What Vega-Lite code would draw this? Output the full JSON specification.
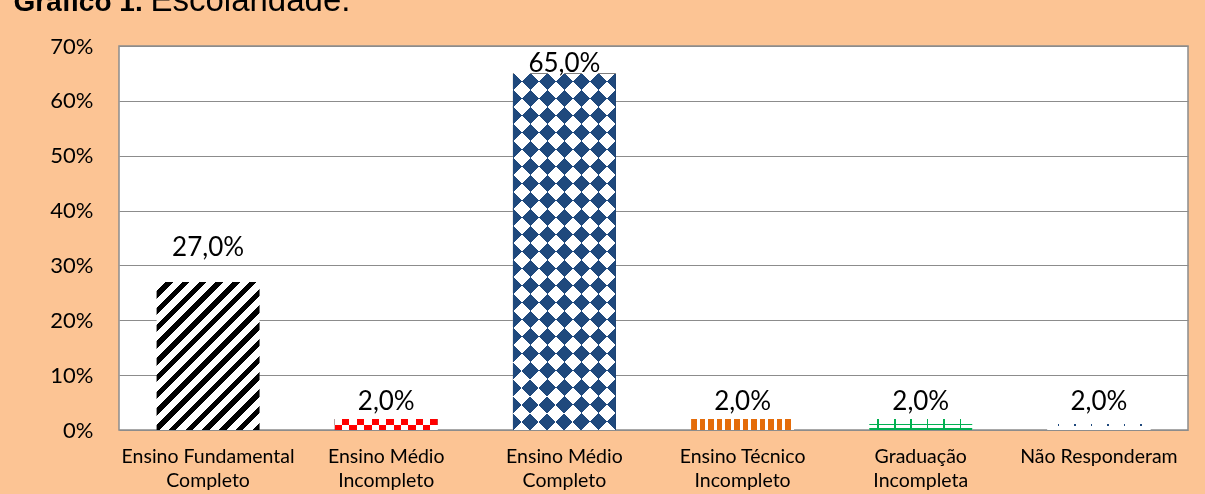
{
  "$schema": "https://vega.github.io/schema/vega-lite/v6.json",
  "width": 1069,
  "height": 384,
  "autosize": {"type": "none"},
  "padding": {"left": 119, "top": 46, "right": 17, "bottom": 64},
  "background": "#FCC494",
  "config": {
    "view": {"fill": "white", "stroke": "#8c8c8c", "strokeWidth": 1.5},
    "locale": {"number": {"decimal": ",", "thousands": ".", "grouping": [3], "currency": ["R$", ""]}}
  },
  "data": {
    "values": [
      {"escolaridade": "Ensino Fundamental Completo", "pct": 0.27},
      {"escolaridade": "Ensino Médio Incompleto", "pct": 0.02},
      {"escolaridade": "Ensino Médio Completo", "pct": 0.65},
      {"escolaridade": "Ensino Técnico Incompleto", "pct": 0.02},
      {"escolaridade": "Graduação Incompleta", "pct": 0.02},
      {"escolaridade": "Não Responderam", "pct": 0.02}
    ]
  },
  "encoding": {
    "x": {
      "field": "escolaridade",
      "type": "nominal",
      "sort": null,
      "scale": {
        "domain": ["Ensino Fundamental Completo", "Ensino Médio Incompleto", "Ensino Médio Completo", "Ensino Técnico Incompleto", "Graduação Incompleta", "Não Responderam"],
        "paddingInner": 0.422,
        "paddingOuter": 0.211
      },
      "axis": {
        "title": "Gráfico 1.",
        "titleX": -106,
        "titleY": -420,
        "titleAlign": "left",
        "titleBaseline": "alphabetic",
        "titleAngle": 0,
        "titleFont": "Liberation Sans",
        "titleFontSize": 28,
        "titleFontWeight": "bold",
        "titleColor": "black",
        "labelExpr": "datum.label == 'Não Responderam' ? datum.label : [substring(datum.label, 0, lastindexof(datum.label, ' ')), substring(datum.label, lastindexof(datum.label, ' ') + 1)]",
        "labelAngle": 0,
        "labelFont": "Lato",
        "labelFontSize": 19.5,
        "labelColor": "black",
        "labelPadding": 17,
        "labelLineHeight": 24,
        "labelBaseline": "top",
        "labelLimit": 300,
        "ticks": false,
        "domain": false,
        "grid": false
      }
    },
    "y": {
      "field": "pct",
      "type": "quantitative",
      "scale": {"domain": [0, 0.7], "nice": false},
      "axis": {
        "title": "Escolaridade.",
        "titleX": 31,
        "titleY": -36,
        "titleAngle": 0,
        "titleAlign": "left",
        "titleBaseline": "alphabetic",
        "titleFont": "Liberation Sans",
        "titleFontSize": 33,
        "titleFontWeight": "normal",
        "titleColor": "black",
        "format": ".0%",
        "values": [0, 0.1, 0.2, 0.3, 0.4, 0.5, 0.6, 0.7],
        "labelFont": "Lato",
        "labelFontSize": 22,
        "labelColor": "black",
        "labelPadding": 26,
        "ticks": false,
        "domain": false,
        "grid": true,
        "gridColor": "#8c8c8c",
        "gridWidth": 1.2
      }
    }
  },
  "layer": [
    {
      "transform": [{"filter": "datum.escolaridade == 'Ensino Fundamental Completo'"}],
      "mark": {"type": "bar", "fill": {"gradient": "linear", "x1": 0, "y1": 0, "x2": 0.795, "y2": 1.143, "stops": [
        {"offset": 0, "color": "#ffffff"}, {"offset": 0.0367, "color": "#ffffff"}, {"offset": 0.0367, "color": "#000000"}, {"offset": 0.0667, "color": "#000000"},
        {"offset": 0.0667, "color": "#ffffff"}, {"offset": 0.1033, "color": "#ffffff"}, {"offset": 0.1033, "color": "#000000"}, {"offset": 0.1333, "color": "#000000"},
        {"offset": 0.1333, "color": "#ffffff"}, {"offset": 0.17, "color": "#ffffff"}, {"offset": 0.17, "color": "#000000"}, {"offset": 0.2, "color": "#000000"},
        {"offset": 0.2, "color": "#ffffff"}, {"offset": 0.2367, "color": "#ffffff"}, {"offset": 0.2367, "color": "#000000"}, {"offset": 0.2667, "color": "#000000"},
        {"offset": 0.2667, "color": "#ffffff"}, {"offset": 0.3033, "color": "#ffffff"}, {"offset": 0.3033, "color": "#000000"}, {"offset": 0.3333, "color": "#000000"},
        {"offset": 0.3333, "color": "#ffffff"}, {"offset": 0.37, "color": "#ffffff"}, {"offset": 0.37, "color": "#000000"}, {"offset": 0.4, "color": "#000000"},
        {"offset": 0.4, "color": "#ffffff"}, {"offset": 0.4367, "color": "#ffffff"}, {"offset": 0.4367, "color": "#000000"}, {"offset": 0.4667, "color": "#000000"},
        {"offset": 0.4667, "color": "#ffffff"}, {"offset": 0.5033, "color": "#ffffff"}, {"offset": 0.5033, "color": "#000000"}, {"offset": 0.5333, "color": "#000000"},
        {"offset": 0.5333, "color": "#ffffff"}, {"offset": 0.57, "color": "#ffffff"}, {"offset": 0.57, "color": "#000000"}, {"offset": 0.6, "color": "#000000"},
        {"offset": 0.6, "color": "#ffffff"}, {"offset": 0.6367, "color": "#ffffff"}, {"offset": 0.6367, "color": "#000000"}, {"offset": 0.6667, "color": "#000000"},
        {"offset": 0.6667, "color": "#ffffff"}, {"offset": 0.7033, "color": "#ffffff"}, {"offset": 0.7033, "color": "#000000"}, {"offset": 0.7333, "color": "#000000"},
        {"offset": 0.7333, "color": "#ffffff"}, {"offset": 0.77, "color": "#ffffff"}, {"offset": 0.77, "color": "#000000"}, {"offset": 0.8, "color": "#000000"},
        {"offset": 0.8, "color": "#ffffff"}, {"offset": 0.8367, "color": "#ffffff"}, {"offset": 0.8367, "color": "#000000"}, {"offset": 0.8667, "color": "#000000"},
        {"offset": 0.8667, "color": "#ffffff"}, {"offset": 0.9033, "color": "#ffffff"}, {"offset": 0.9033, "color": "#000000"}, {"offset": 0.9333, "color": "#000000"},
        {"offset": 0.9333, "color": "#ffffff"}, {"offset": 0.97, "color": "#ffffff"}, {"offset": 0.97, "color": "#000000"}, {"offset": 1, "color": "#000000"}
      ]}}
    },
    {
      "transform": [{"filter": "datum.escolaridade == 'Ensino Médio Incompleto'"}],
      "mark": {"type": "bar", "fill": {"gradient": "linear", "x1": 0, "y1": 0, "x2": 1, "y2": 0, "stops": [
        {"offset": 0, "color": "#000000"}, {"offset": 0.0714, "color": "#000000"}, {"offset": 0.0714, "color": "#ffffff"}, {"offset": 0.1429, "color": "#ffffff"},
        {"offset": 0.1429, "color": "#000000"}, {"offset": 0.2143, "color": "#000000"}, {"offset": 0.2143, "color": "#ffffff"}, {"offset": 0.2857, "color": "#ffffff"},
        {"offset": 0.2857, "color": "#000000"}, {"offset": 0.3571, "color": "#000000"}, {"offset": 0.3571, "color": "#ffffff"}, {"offset": 0.4286, "color": "#ffffff"},
        {"offset": 0.4286, "color": "#000000"}, {"offset": 0.5, "color": "#000000"}, {"offset": 0.5, "color": "#ffffff"}, {"offset": 0.5714, "color": "#ffffff"},
        {"offset": 0.5714, "color": "#000000"}, {"offset": 0.6429, "color": "#000000"}, {"offset": 0.6429, "color": "#ffffff"}, {"offset": 0.7143, "color": "#ffffff"},
        {"offset": 0.7143, "color": "#000000"}, {"offset": 0.7857, "color": "#000000"}, {"offset": 0.7857, "color": "#ffffff"}, {"offset": 0.8571, "color": "#ffffff"},
        {"offset": 0.8571, "color": "#000000"}, {"offset": 0.9286, "color": "#000000"}, {"offset": 0.9286, "color": "#ffffff"}, {"offset": 1, "color": "#ffffff"}
      ]}}
    },
    {
      "transform": [{"filter": "datum.escolaridade == 'Ensino Médio Incompleto'"}],
      "mark": {"type": "bar", "blend": "difference", "fill": {"gradient": "linear", "x1": 0, "y1": 0, "x2": 0, "y2": 1, "stops": [
        {"offset": 0, "color": "#ffffff"}, {"offset": 0.5, "color": "#ffffff"}, {"offset": 0.5, "color": "#000000"}, {"offset": 1, "color": "#000000"}
      ]}}
    },
    {
      "transform": [{"filter": "datum.escolaridade == 'Ensino Médio Incompleto'"}],
      "mark": {"type": "bar", "blend": "lighten", "fill": "#FF0000"}
    },
    {
      "transform": [{"filter": "datum.escolaridade == 'Ensino Médio Completo'"}],
      "mark": {"type": "bar", "fill": {"gradient": "linear", "x1": 0, "y1": 0, "x2": 0.3436, "y2": 1.1896, "stops": [
        {"offset": 0, "color": "#ffffff"}, {"offset": 0.037, "color": "#ffffff"}, {"offset": 0.037, "color": "#000000"}, {"offset": 0.0741, "color": "#000000"},
        {"offset": 0.0741, "color": "#ffffff"}, {"offset": 0.1111, "color": "#ffffff"}, {"offset": 0.1111, "color": "#000000"}, {"offset": 0.1481, "color": "#000000"},
        {"offset": 0.1481, "color": "#ffffff"}, {"offset": 0.1852, "color": "#ffffff"}, {"offset": 0.1852, "color": "#000000"}, {"offset": 0.2222, "color": "#000000"},
        {"offset": 0.2222, "color": "#ffffff"}, {"offset": 0.2593, "color": "#ffffff"}, {"offset": 0.2593, "color": "#000000"}, {"offset": 0.2963, "color": "#000000"},
        {"offset": 0.2963, "color": "#ffffff"}, {"offset": 0.3333, "color": "#ffffff"}, {"offset": 0.3333, "color": "#000000"}, {"offset": 0.3704, "color": "#000000"},
        {"offset": 0.3704, "color": "#ffffff"}, {"offset": 0.4074, "color": "#ffffff"}, {"offset": 0.4074, "color": "#000000"}, {"offset": 0.4444, "color": "#000000"},
        {"offset": 0.4444, "color": "#ffffff"}, {"offset": 0.4815, "color": "#ffffff"}, {"offset": 0.4815, "color": "#000000"}, {"offset": 0.5185, "color": "#000000"},
        {"offset": 0.5185, "color": "#ffffff"}, {"offset": 0.5556, "color": "#ffffff"}, {"offset": 0.5556, "color": "#000000"}, {"offset": 0.5926, "color": "#000000"},
        {"offset": 0.5926, "color": "#ffffff"}, {"offset": 0.6296, "color": "#ffffff"}, {"offset": 0.6296, "color": "#000000"}, {"offset": 0.6667, "color": "#000000"},
        {"offset": 0.6667, "color": "#ffffff"}, {"offset": 0.7037, "color": "#ffffff"}, {"offset": 0.7037, "color": "#000000"}, {"offset": 0.7407, "color": "#000000"},
        {"offset": 0.7407, "color": "#ffffff"}, {"offset": 0.7778, "color": "#ffffff"}, {"offset": 0.7778, "color": "#000000"}, {"offset": 0.8148, "color": "#000000"},
        {"offset": 0.8148, "color": "#ffffff"}, {"offset": 0.8519, "color": "#ffffff"}, {"offset": 0.8519, "color": "#000000"}, {"offset": 0.8889, "color": "#000000"},
        {"offset": 0.8889, "color": "#ffffff"}, {"offset": 0.9259, "color": "#ffffff"}, {"offset": 0.9259, "color": "#000000"}, {"offset": 0.963, "color": "#000000"},
        {"offset": 0.963, "color": "#ffffff"}, {"offset": 1, "color": "#ffffff"}
      ]}}
    },
    {
      "transform": [{"filter": "datum.escolaridade == 'Ensino Médio Completo'"}],
      "mark": {"type": "bar", "blend": "difference", "fill": {"gradient": "linear", "x1": 1, "y1": 0, "x2": 0.6564, "y2": 1.1896, "stops": [
        {"offset": 0, "color": "#ffffff"}, {"offset": 0.037, "color": "#ffffff"}, {"offset": 0.037, "color": "#000000"}, {"offset": 0.0741, "color": "#000000"},
        {"offset": 0.0741, "color": "#ffffff"}, {"offset": 0.1111, "color": "#ffffff"}, {"offset": 0.1111, "color": "#000000"}, {"offset": 0.1481, "color": "#000000"},
        {"offset": 0.1481, "color": "#ffffff"}, {"offset": 0.1852, "color": "#ffffff"}, {"offset": 0.1852, "color": "#000000"}, {"offset": 0.2222, "color": "#000000"},
        {"offset": 0.2222, "color": "#ffffff"}, {"offset": 0.2593, "color": "#ffffff"}, {"offset": 0.2593, "color": "#000000"}, {"offset": 0.2963, "color": "#000000"},
        {"offset": 0.2963, "color": "#ffffff"}, {"offset": 0.3333, "color": "#ffffff"}, {"offset": 0.3333, "color": "#000000"}, {"offset": 0.3704, "color": "#000000"},
        {"offset": 0.3704, "color": "#ffffff"}, {"offset": 0.4074, "color": "#ffffff"}, {"offset": 0.4074, "color": "#000000"}, {"offset": 0.4444, "color": "#000000"},
        {"offset": 0.4444, "color": "#ffffff"}, {"offset": 0.4815, "color": "#ffffff"}, {"offset": 0.4815, "color": "#000000"}, {"offset": 0.5185, "color": "#000000"},
        {"offset": 0.5185, "color": "#ffffff"}, {"offset": 0.5556, "color": "#ffffff"}, {"offset": 0.5556, "color": "#000000"}, {"offset": 0.5926, "color": "#000000"},
        {"offset": 0.5926, "color": "#ffffff"}, {"offset": 0.6296, "color": "#ffffff"}, {"offset": 0.6296, "color": "#000000"}, {"offset": 0.6667, "color": "#000000"},
        {"offset": 0.6667, "color": "#ffffff"}, {"offset": 0.7037, "color": "#ffffff"}, {"offset": 0.7037, "color": "#000000"}, {"offset": 0.7407, "color": "#000000"},
        {"offset": 0.7407, "color": "#ffffff"}, {"offset": 0.7778, "color": "#ffffff"}, {"offset": 0.7778, "color": "#000000"}, {"offset": 0.8148, "color": "#000000"},
        {"offset": 0.8148, "color": "#ffffff"}, {"offset": 0.8519, "color": "#ffffff"}, {"offset": 0.8519, "color": "#000000"}, {"offset": 0.8889, "color": "#000000"},
        {"offset": 0.8889, "color": "#ffffff"}, {"offset": 0.9259, "color": "#ffffff"}, {"offset": 0.9259, "color": "#000000"}, {"offset": 0.963, "color": "#000000"},
        {"offset": 0.963, "color": "#ffffff"}, {"offset": 1, "color": "#ffffff"}
      ]}}
    },
    {
      "transform": [{"filter": "datum.escolaridade == 'Ensino Médio Completo'"}],
      "mark": {"type": "bar", "blend": "lighten", "fill": "#1F497D"}
    },
    {
      "transform": [{"filter": "datum.escolaridade == 'Ensino Técnico Incompleto'"}],
      "mark": {"type": "bar", "fill": {"gradient": "linear", "x1": 0, "y1": 0, "x2": 1, "y2": 0, "stops": [
        {"offset": 0, "color": "#E46C0A"}, {"offset": 0.0542, "color": "#E46C0A"}, {"offset": 0.0542, "color": "#ffffff"}, {"offset": 0.0833, "color": "#ffffff"},
        {"offset": 0.0833, "color": "#E46C0A"}, {"offset": 0.1375, "color": "#E46C0A"}, {"offset": 0.1375, "color": "#ffffff"}, {"offset": 0.1667, "color": "#ffffff"},
        {"offset": 0.1667, "color": "#E46C0A"}, {"offset": 0.2208, "color": "#E46C0A"}, {"offset": 0.2208, "color": "#ffffff"}, {"offset": 0.25, "color": "#ffffff"},
        {"offset": 0.25, "color": "#E46C0A"}, {"offset": 0.3042, "color": "#E46C0A"}, {"offset": 0.3042, "color": "#ffffff"}, {"offset": 0.3333, "color": "#ffffff"},
        {"offset": 0.3333, "color": "#E46C0A"}, {"offset": 0.3875, "color": "#E46C0A"}, {"offset": 0.3875, "color": "#ffffff"}, {"offset": 0.4167, "color": "#ffffff"},
        {"offset": 0.4167, "color": "#E46C0A"}, {"offset": 0.4708, "color": "#E46C0A"}, {"offset": 0.4708, "color": "#ffffff"}, {"offset": 0.5, "color": "#ffffff"},
        {"offset": 0.5, "color": "#E46C0A"}, {"offset": 0.5542, "color": "#E46C0A"}, {"offset": 0.5542, "color": "#ffffff"}, {"offset": 0.5833, "color": "#ffffff"},
        {"offset": 0.5833, "color": "#E46C0A"}, {"offset": 0.6375, "color": "#E46C0A"}, {"offset": 0.6375, "color": "#ffffff"}, {"offset": 0.6667, "color": "#ffffff"},
        {"offset": 0.6667, "color": "#E46C0A"}, {"offset": 0.7208, "color": "#E46C0A"}, {"offset": 0.7208, "color": "#ffffff"}, {"offset": 0.75, "color": "#ffffff"},
        {"offset": 0.75, "color": "#E46C0A"}, {"offset": 0.8042, "color": "#E46C0A"}, {"offset": 0.8042, "color": "#ffffff"}, {"offset": 0.8333, "color": "#ffffff"},
        {"offset": 0.8333, "color": "#E46C0A"}, {"offset": 0.8875, "color": "#E46C0A"}, {"offset": 0.8875, "color": "#ffffff"}, {"offset": 0.9167, "color": "#ffffff"},
        {"offset": 0.9167, "color": "#E46C0A"}, {"offset": 0.9708, "color": "#E46C0A"}, {"offset": 0.9708, "color": "#ffffff"}, {"offset": 1, "color": "#ffffff"}
      ]}}
    },
    {
      "transform": [{"filter": "datum.escolaridade == 'Graduação Incompleta'"}],
      "mark": {"type": "bar", "fill": "#ffffff"}
    },
    {
      "transform": [{"filter": "datum.escolaridade == 'Graduação Incompleta'"}],
      "mark": {"type": "bar", "fill": {"gradient": "linear", "x1": 0, "y1": 0, "x2": 1, "y2": 0, "stops": [
        {"offset": 0, "color": "rgba(255,255,255,0)"}, {"offset": 0.08, "color": "rgba(255,255,255,0)"}, {"offset": 0.08, "color": "#00B050"}, {"offset": 0.095, "color": "#00B050"},
        {"offset": 0.095, "color": "rgba(255,255,255,0)"}, {"offset": 0.24, "color": "rgba(255,255,255,0)"}, {"offset": 0.24, "color": "#00B050"}, {"offset": 0.255, "color": "#00B050"},
        {"offset": 0.255, "color": "rgba(255,255,255,0)"}, {"offset": 0.4, "color": "rgba(255,255,255,0)"}, {"offset": 0.4, "color": "#00B050"}, {"offset": 0.415, "color": "#00B050"},
        {"offset": 0.415, "color": "rgba(255,255,255,0)"}, {"offset": 0.56, "color": "rgba(255,255,255,0)"}, {"offset": 0.56, "color": "#00B050"}, {"offset": 0.575, "color": "#00B050"},
        {"offset": 0.575, "color": "rgba(255,255,255,0)"}, {"offset": 0.72, "color": "rgba(255,255,255,0)"}, {"offset": 0.72, "color": "#00B050"}, {"offset": 0.735, "color": "#00B050"},
        {"offset": 0.735, "color": "rgba(255,255,255,0)"}, {"offset": 0.88, "color": "rgba(255,255,255,0)"}, {"offset": 0.88, "color": "#00B050"}, {"offset": 0.895, "color": "#00B050"},
        {"offset": 0.895, "color": "rgba(255,255,255,0)"}, {"offset": 1, "color": "rgba(255,255,255,0)"}
      ]}}
    },
    {
      "transform": [{"filter": "datum.escolaridade == 'Graduação Incompleta'"}],
      "mark": {"type": "bar", "fill": {"gradient": "linear", "x1": 0, "y1": 0, "x2": 0, "y2": 1, "stops": [
        {"offset": 0, "color": "rgba(255,255,255,0)"}, {"offset": 0.42, "color": "rgba(255,255,255,0)"}, {"offset": 0.42, "color": "#00B050"}, {"offset": 0.56, "color": "#00B050"},
        {"offset": 0.56, "color": "rgba(255,255,255,0)"}, {"offset": 0.86, "color": "rgba(255,255,255,0)"}, {"offset": 0.86, "color": "#00B050"}, {"offset": 1, "color": "#00B050"}
      ]}}
    },
    {
      "transform": [{"filter": "datum.escolaridade == 'Não Responderam'"}],
      "mark": {"type": "bar", "fill": "#ffffff"}
    },
    {
      "transform": [{"filter": "datum.escolaridade == 'Não Responderam'"}],
      "mark": {"type": "bar", "fill": {"gradient": "linear", "x1": 0, "y1": 0, "x2": 1, "y2": 0, "stops": [
        {"offset": 0, "color": "rgba(255,255,255,0)"}, {"offset": 0.1, "color": "rgba(255,255,255,0)"}, {"offset": 0.1, "color": "#1F497D"}, {"offset": 0.115, "color": "#1F497D"},
        {"offset": 0.115, "color": "rgba(255,255,255,0)"}, {"offset": 0.26, "color": "rgba(255,255,255,0)"}, {"offset": 0.26, "color": "#1F497D"}, {"offset": 0.275, "color": "#1F497D"},
        {"offset": 0.275, "color": "rgba(255,255,255,0)"}, {"offset": 0.42, "color": "rgba(255,255,255,0)"}, {"offset": 0.42, "color": "#1F497D"}, {"offset": 0.435, "color": "#1F497D"},
        {"offset": 0.435, "color": "rgba(255,255,255,0)"}, {"offset": 0.58, "color": "rgba(255,255,255,0)"}, {"offset": 0.58, "color": "#1F497D"}, {"offset": 0.595, "color": "#1F497D"},
        {"offset": 0.595, "color": "rgba(255,255,255,0)"}, {"offset": 0.74, "color": "rgba(255,255,255,0)"}, {"offset": 0.74, "color": "#1F497D"}, {"offset": 0.755, "color": "#1F497D"},
        {"offset": 0.755, "color": "rgba(255,255,255,0)"}, {"offset": 0.9, "color": "rgba(255,255,255,0)"}, {"offset": 0.9, "color": "#1F497D"}, {"offset": 0.915, "color": "#1F497D"},
        {"offset": 0.915, "color": "rgba(255,255,255,0)"}, {"offset": 1, "color": "rgba(255,255,255,0)"}
      ]}}
    },
    {
      "transform": [{"filter": "datum.escolaridade == 'Não Responderam'"}],
      "mark": {"type": "bar", "fill": {"gradient": "linear", "x1": 0, "y1": 0, "x2": 0, "y2": 1, "stops": [
        {"offset": 0, "color": "#ffffff"}, {"offset": 0.45, "color": "#ffffff"}, {"offset": 0.45, "color": "rgba(255,255,255,0)"}, {"offset": 0.62, "color": "rgba(255,255,255,0)"},
        {"offset": 0.62, "color": "#ffffff"}, {"offset": 1, "color": "#ffffff"}
      ]}}
    },
    {
      "transform": [{"filter": "datum.escolaridade == 'Ensino Fundamental Completo'"}],
      "mark": {"type": "text", "dy": -26, "baseline": "alphabetic", "font": "Lato", "fontSize": 26, "color": "black"},
      "encoding": {"text": {"field": "pct", "type": "quantitative", "format": ".1%"}}
    },
    {
      "transform": [{"filter": "datum.escolaridade == 'Ensino Médio Completo'"}],
      "mark": {"type": "text", "dy": -1.5, "baseline": "alphabetic", "font": "Lato", "fontSize": 26, "color": "black"},
      "encoding": {"text": {"field": "pct", "type": "quantitative", "format": ".1%"}}
    },
    {
      "transform": [{"filter": "datum.pct < 0.05"}],
      "mark": {"type": "text", "dy": -9, "baseline": "alphabetic", "font": "Lato", "fontSize": 26, "color": "black"},
      "encoding": {"text": {"field": "pct", "type": "quantitative", "format": ".1%"}}
    }
  ]
}
